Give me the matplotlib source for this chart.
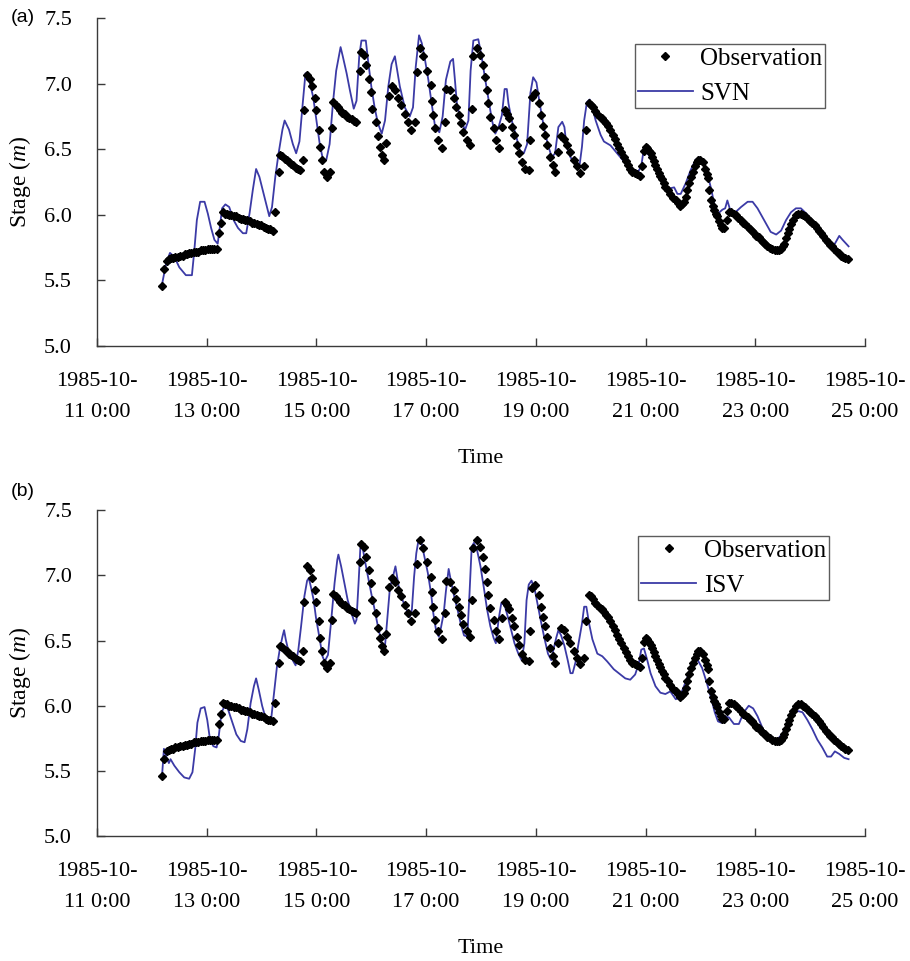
import numpy as np
import pandas as pd
import matplotlib
matplotlib.use('Agg')
import matplotlib.pyplot as plt

plt.rcParams['font.family'] = ['Liberation Serif', 'DejaVu Serif']
plt.rcParams['mathtext.fontset'] = 'custom'
plt.rcParams['mathtext.rm'] = 'Liberation Serif'
plt.rcParams['mathtext.it'] = 'Liberation Serif:italic'

start = pd.Timestamp('1985-10-11 00:00')

# observed stage, time in days after 1985-10-11 0:00
obs_day = np.array([
    1.18, 1.22, 1.27, 1.31, 1.35, 1.39, 1.43, 1.47, 1.52, 1.56, 1.60, 1.64, 1.68, 1.72,
    1.77, 1.81, 1.85, 1.89, 1.93, 1.97, 2.02, 2.06, 2.10, 2.14, 2.18, 2.23, 2.26, 2.29,
    2.33, 2.37, 2.41, 2.45, 2.49, 2.54, 2.58, 2.62, 2.66, 2.70, 2.74, 2.79, 2.83, 2.87,
    2.91, 2.95, 2.99, 3.04, 3.08, 3.12, 3.16, 3.20, 3.24, 3.31, 3.34, 3.38, 3.42, 3.46,
    3.50, 3.54, 3.58, 3.63, 3.67, 3.70, 3.75, 3.78, 3.83, 3.88, 3.92, 3.97, 4.00, 4.04,
    4.07, 4.11, 4.13, 4.19, 4.25, 4.29, 4.31, 4.35, 4.39, 4.43, 4.47, 4.52, 4.56, 4.60,
    4.64, 4.68, 4.72, 4.79, 4.82, 4.87, 4.91, 4.95, 4.99, 5.01, 5.08, 5.12, 5.16, 5.19,
    5.23, 5.27, 5.33, 5.37, 5.43, 5.49, 5.55, 5.61, 5.67, 5.73, 5.80, 5.84, 5.89, 5.95,
    6.02, 6.08, 6.10, 6.12, 6.16, 6.22, 6.28, 6.34, 6.37, 6.43, 6.50, 6.54, 6.59, 6.63,
    6.68, 6.74, 6.79, 6.83, 6.86, 6.92, 6.98, 7.03, 7.07, 7.10, 7.13, 7.17, 7.23, 7.28,
    7.32, 7.38, 7.43, 7.47, 7.51, 7.56, 7.60, 7.65, 7.70, 7.74, 7.81, 7.87, 7.90, 7.93,
    7.99, 8.05, 8.09, 8.13, 8.17, 8.21, 8.26, 8.31, 8.35, 8.41, 8.45, 8.51, 8.57, 8.63,
    8.69, 8.75, 8.81, 8.87, 8.92, 8.96, 9.00, 9.04, 9.08, 9.12, 9.16, 9.20, 9.24, 9.28,
    9.32, 9.36, 9.40, 9.44, 9.48, 9.52, 9.56, 9.60, 9.64, 9.68, 9.72, 9.76, 9.80, 9.85,
    9.90, 9.94, 9.97, 10.00, 10.03, 10.06, 10.09, 10.12, 10.15, 10.18, 10.21, 10.24, 10.27, 10.30,
    10.33, 10.36, 10.40, 10.45, 10.50, 10.55, 10.59, 10.63, 10.67, 10.70, 10.73, 10.76, 10.79, 10.82,
    10.86, 10.90, 10.93, 10.96, 11.00, 11.04, 11.08, 11.11, 11.13, 11.16, 11.19, 11.22, 11.25, 11.28,
    11.31, 11.34, 11.37, 11.40, 11.43, 11.48, 11.52, 11.56, 11.61, 11.65, 11.69, 11.74, 11.78, 11.82,
    11.86, 11.90, 11.94, 11.98, 12.02, 12.06, 12.10, 12.14, 12.18, 12.22, 12.26, 12.30, 12.35, 12.39,
    12.43, 12.47, 12.50, 12.53, 12.56, 12.59, 12.62, 12.65, 12.69, 12.74, 12.78, 12.83, 12.87, 12.91,
    12.96, 13.00, 13.04, 13.08, 13.12, 13.16, 13.20, 13.24, 13.28, 13.32, 13.36, 13.40, 13.44, 13.48,
    13.52, 13.56, 13.60, 13.64, 13.69])
obs_stage = np.array([
    5.46, 5.59, 5.65, 5.66, 5.67, 5.67, 5.68, 5.68, 5.69, 5.69, 5.70, 5.70, 5.71, 5.71,
    5.72, 5.72, 5.72, 5.73, 5.73, 5.73, 5.74, 5.74, 5.74, 5.74, 5.74, 5.86, 5.94, 6.02,
    6.01, 6.01, 6.00, 6.00, 5.99, 5.99, 5.98, 5.97, 5.97, 5.96, 5.96, 5.95, 5.94, 5.94,
    5.93, 5.92, 5.92, 5.91, 5.90, 5.89, 5.89, 5.88, 6.02, 6.33, 6.46, 6.45, 6.43, 6.42,
    6.40, 6.39, 6.38, 6.36, 6.35, 6.34, 6.42, 6.80, 7.07, 7.04, 6.98, 6.89, 6.80, 6.65,
    6.52, 6.42, 6.33, 6.29, 6.33, 6.66, 6.86, 6.84, 6.82, 6.80, 6.78, 6.77, 6.75, 6.74,
    6.73, 6.72, 6.71, 7.10, 7.24, 7.22, 7.14, 7.04, 6.94, 6.81, 6.71, 6.60, 6.52, 6.46,
    6.42, 6.55, 6.91, 6.98, 6.95, 6.89, 6.84, 6.77, 6.71, 6.65, 6.71, 7.09, 7.27, 7.21,
    7.10, 6.99, 6.87, 6.76, 6.66, 6.57, 6.51, 6.71, 6.96, 6.95, 6.89, 6.82, 6.76, 6.70,
    6.63, 6.57, 6.53, 6.81, 7.21, 7.27, 7.22, 7.14, 7.05, 6.95, 6.85, 6.75, 6.66, 6.57,
    6.51, 6.67, 6.80, 6.77, 6.74, 6.67, 6.61, 6.53, 6.47, 6.40, 6.35, 6.34, 6.57, 6.90,
    6.93, 6.85, 6.76, 6.68, 6.61, 6.53, 6.44, 6.38, 6.33, 6.48, 6.60, 6.58, 6.53, 6.48,
    6.42, 6.37, 6.32, 6.37, 6.65, 6.85, 6.84, 6.82, 6.79, 6.77, 6.75, 6.74, 6.72, 6.70,
    6.68, 6.65, 6.61, 6.58, 6.54, 6.51, 6.48, 6.44, 6.41, 6.38, 6.35, 6.33, 6.32, 6.31,
    6.30, 6.37, 6.49, 6.52, 6.51, 6.49, 6.47, 6.44, 6.41, 6.38, 6.35, 6.32, 6.30, 6.27,
    6.24, 6.21, 6.19, 6.16, 6.13, 6.11, 6.09, 6.07, 6.08, 6.10, 6.14, 6.19, 6.24, 6.29,
    6.33, 6.37, 6.40, 6.42, 6.42, 6.40, 6.35, 6.31, 6.28, 6.19, 6.11, 6.07, 6.04, 6.01,
    5.99, 5.95, 5.92, 5.90, 5.90, 5.96, 6.02, 6.02, 6.01, 6.00, 5.98, 5.96, 5.94, 5.93,
    5.91, 5.89, 5.88, 5.86, 5.84, 5.83, 5.81, 5.79, 5.78, 5.76, 5.75, 5.74, 5.73, 5.73,
    5.73, 5.74, 5.76, 5.78, 5.82, 5.86, 5.89, 5.93, 5.96, 6.00, 6.01, 6.01, 6.00, 5.99,
    5.97, 5.95, 5.94, 5.92, 5.90, 5.88, 5.86, 5.84, 5.81, 5.79, 5.77, 5.76, 5.74, 5.72,
    5.71, 5.69, 5.68, 5.67, 5.66])

# SVN model
svn_day = np.array([
    1.19, 1.26, 1.33, 1.41, 1.50, 1.62, 1.73, 1.77, 1.82, 1.88, 1.96, 2.02, 2.08, 2.14,
    2.20, 2.24, 2.28, 2.34, 2.41, 2.49, 2.57, 2.66, 2.72, 2.78, 2.84, 2.90, 2.96, 3.02,
    3.08, 3.14, 3.19, 3.25, 3.31, 3.38, 3.42, 3.50, 3.57, 3.63, 3.69, 3.75, 3.80, 3.86,
    3.94, 4.00, 4.06, 4.12, 4.18, 4.24, 4.30, 4.36, 4.44, 4.48, 4.55, 4.61, 4.68, 4.73,
    4.78, 4.82, 4.90, 4.94, 5.00, 5.06, 5.12, 5.19, 5.25, 5.31, 5.37, 5.43, 5.52, 5.61,
    5.70, 5.76, 5.81, 5.87, 5.92, 5.98, 6.04, 6.10, 6.16, 6.24, 6.30, 6.36, 6.44, 6.49,
    6.52, 6.56, 6.63, 6.71, 6.77, 6.81, 6.86, 6.95, 7.01, 7.07, 7.14, 7.20, 7.26, 7.32,
    7.38, 7.43, 7.47, 7.50, 7.56, 7.64, 7.71, 7.78, 7.84, 7.90, 7.95, 8.01, 8.05, 8.11,
    8.17, 8.23, 8.29, 8.35, 8.41, 8.48, 8.52, 8.56, 8.63, 8.72, 8.80, 8.84, 8.88, 8.93,
    8.98, 9.03, 9.09, 9.18, 9.24, 9.36, 9.48, 9.60, 9.72, 9.85, 9.92, 9.97, 10.03, 10.09,
    10.21, 10.33, 10.42, 10.52, 10.58, 10.64, 10.73, 10.82, 10.91, 10.99, 11.06, 11.14, 11.20, 11.26,
    11.32, 11.40, 11.45, 11.49, 11.54, 11.61, 11.74, 11.86, 11.95, 12.04, 12.16, 12.28, 12.38, 12.47,
    12.56, 12.65, 12.74, 12.83, 12.93, 13.02, 13.11, 13.20, 13.29, 13.38, 13.45, 13.53, 13.59, 13.70])
svn_stage = np.array([
    5.48, 5.63, 5.71, 5.68, 5.60, 5.54, 5.54, 5.71, 5.96, 6.10, 6.10, 6.01, 5.90, 5.81,
    5.78, 5.91, 6.05, 6.08, 6.06, 5.96, 5.90, 5.86, 5.86, 6.01, 6.19, 6.35, 6.29, 6.19,
    6.09, 5.99, 6.06, 6.29, 6.47, 6.65, 6.72, 6.65, 6.54, 6.47, 6.56, 6.85, 7.08, 7.04,
    6.90, 6.72, 6.54, 6.42, 6.42, 6.54, 6.85, 7.10, 7.28, 7.21, 7.08, 6.95, 6.81, 6.87,
    7.21, 7.33, 7.33, 7.18, 6.98, 6.82, 6.70, 6.62, 6.72, 6.98, 7.15, 7.21, 6.98, 6.82,
    6.75, 6.82, 7.13, 7.37, 7.31, 7.18, 7.03, 6.85, 6.68, 6.63, 6.75, 7.03, 7.17, 7.19,
    7.05, 6.85, 6.72, 6.65, 6.72, 7.10, 7.33, 7.34, 7.21, 7.05, 6.87, 6.72, 6.62, 6.67,
    6.76, 6.96, 6.96, 6.85, 6.72, 6.60, 6.49, 6.47, 6.54, 6.93, 7.05, 7.01, 6.90, 6.75,
    6.62, 6.52, 6.44, 6.47, 6.67, 6.71, 6.67, 6.52, 6.44, 6.39, 6.39, 6.52, 6.72, 6.86,
    6.88, 6.82, 6.72, 6.61, 6.56, 6.53, 6.47, 6.41, 6.34, 6.32, 6.37, 6.51, 6.47, 6.44,
    6.34, 6.24, 6.20, 6.21, 6.16, 6.16, 6.24, 6.34, 6.42, 6.44, 6.39, 6.29, 6.19, 6.06,
    6.01, 6.04, 6.05, 6.11, 6.04, 6.01, 6.06, 6.10, 6.10, 6.05, 5.96, 5.87, 5.85, 5.88,
    5.96, 6.02, 6.05, 6.05, 6.01, 5.96, 5.90, 5.83, 5.79, 5.77, 5.78, 5.84, 5.81, 5.76])

# ISV model
isv_day = np.array([
    1.19, 1.22, 1.27, 1.31, 1.34, 1.41, 1.50, 1.59, 1.68, 1.74, 1.79, 1.83, 1.89, 1.96,
    2.01, 2.06, 2.12, 2.18, 2.22, 2.27, 2.33, 2.39, 2.47, 2.54, 2.62, 2.69, 2.74, 2.80,
    2.86, 2.90, 2.95, 3.01, 3.07, 3.13, 3.17, 3.22, 3.28, 3.33, 3.38, 3.41, 3.44, 3.50,
    3.58, 3.62, 3.67, 3.72, 3.78, 3.83, 3.86, 3.90, 3.95, 3.99, 4.06, 4.11, 4.15, 4.21,
    4.27, 4.33, 4.38, 4.40, 4.45, 4.51, 4.57, 4.64, 4.70, 4.73, 4.77, 4.80, 4.84, 4.88,
    4.94, 5.00, 5.06, 5.12, 5.19, 5.25, 5.29, 5.34, 5.40, 5.44, 5.47, 5.52, 5.61, 5.70,
    5.74, 5.78, 5.82, 5.86, 5.91, 5.97, 6.03, 6.09, 6.13, 6.18, 6.23, 6.27, 6.32, 6.36,
    6.41, 6.45, 6.51, 6.57, 6.63, 6.69, 6.75, 6.79, 6.83, 6.87, 6.93, 6.99, 7.05, 7.11,
    7.17, 7.23, 7.27, 7.32, 7.37, 7.43, 7.49, 7.55, 7.61, 7.68, 7.74, 7.79, 7.83, 7.87,
    7.92, 7.98, 8.04, 8.10, 8.16, 8.22, 8.28, 8.32, 8.37, 8.41, 8.46, 8.52, 8.58, 8.63,
    8.67, 8.72, 8.77, 8.84, 8.88, 8.92, 8.97, 9.03, 9.12, 9.21, 9.30, 9.42, 9.54, 9.63,
    9.72, 9.81, 9.88, 9.92, 9.97, 10.03, 10.09, 10.18, 10.27, 10.36, 10.45, 10.55, 10.61, 10.70,
    10.79, 10.88, 10.95, 11.03, 11.12, 11.20, 11.26, 11.32, 11.38, 11.44, 11.52, 11.61, 11.70, 11.79,
    11.88, 11.96, 12.04, 12.13, 12.22, 12.31, 12.40, 12.50, 12.59, 12.68, 12.77, 12.86, 12.95, 13.04,
    13.13, 13.22, 13.31, 13.38, 13.45, 13.53, 13.62, 13.70])
isv_stage = np.array([
    5.49, 5.67, 5.60, 5.56, 5.59, 5.54, 5.49, 5.45, 5.44, 5.49, 5.67, 5.87, 5.98, 5.99,
    5.89, 5.74, 5.69, 5.68, 5.77, 5.95, 6.00, 5.97, 5.87, 5.78, 5.73, 5.72, 5.82, 6.02,
    6.15, 6.21, 6.12, 6.00, 5.91, 5.87, 5.88, 6.07, 6.30, 6.43, 6.53, 6.58, 6.51, 6.40,
    6.34, 6.31, 6.43, 6.61, 6.84, 6.96, 6.98, 6.91, 6.81, 6.68, 6.51, 6.38, 6.34, 6.39,
    6.66, 6.94, 7.12, 7.16, 7.07, 6.94, 6.81, 6.71, 6.63, 6.66, 6.96, 7.21, 7.22, 7.12,
    6.99, 6.86, 6.74, 6.61, 6.48, 6.46, 6.66, 6.91, 7.00, 7.07, 6.99, 6.86, 6.77, 6.68,
    6.74, 6.99, 7.17, 7.27, 7.26, 7.14, 7.02, 6.86, 6.71, 6.58, 6.53, 6.60, 6.71, 6.88,
    7.05, 6.96, 6.84, 6.74, 6.63, 6.54, 6.53, 6.86, 7.22, 7.25, 7.19, 7.07, 6.91, 6.74,
    6.61, 6.52, 6.48, 6.66, 6.79, 6.77, 6.68, 6.58, 6.48, 6.40, 6.35, 6.48, 6.81, 6.93,
    6.96, 6.89, 6.76, 6.63, 6.51, 6.40, 6.35, 6.43, 6.52, 6.58, 6.54, 6.46, 6.35, 6.25,
    6.25, 6.33, 6.46, 6.63, 6.76, 6.76, 6.63, 6.51, 6.40, 6.38, 6.34, 6.28, 6.24, 6.21,
    6.20, 6.24, 6.33, 6.43, 6.44, 6.35, 6.25, 6.15, 6.10, 6.09, 6.11, 6.05, 6.06, 6.15,
    6.25, 6.34, 6.35, 6.29, 6.17, 6.05, 5.95, 5.88, 5.87, 5.92, 5.91, 5.86, 5.86, 5.95,
    6.00, 5.98, 5.92, 5.83, 5.75, 5.73, 5.74, 5.79, 5.87, 5.93, 5.96, 5.95, 5.89, 5.82,
    5.74, 5.68, 5.61, 5.61, 5.65, 5.63, 5.60, 5.59])

tick_days = [0, 2, 4, 6, 8, 10, 12, 14]
yticks = [5.0, 5.5, 6.0, 6.5, 7.0, 7.5]

line_color = '#3b3aa6'
axis_color = '#3a3a3a'


def draw_panel(ax, model_day, model_stage, model_name, leg_x):
    t_obs = start + pd.to_timedelta(obs_day, unit='D')
    t_mod = start + pd.to_timedelta(model_day, unit='D')
    ax.plot(t_mod, model_stage, color=line_color, lw=1.3, label=model_name, zorder=2)
    ax.plot(t_obs, obs_stage, ls='none', marker='D', ms=3.6, color='black',
            label='Observation', zorder=3)

    ticks = [start + pd.Timedelta(days=d) for d in tick_days]
    ax.set_xlim(ticks[0], ticks[-1])
    ax.set_xticks(ticks)
    ax.set_xticklabels(['%s\n%d %d:%s' % (t.strftime('%Y-%m-'), t.day, t.hour, t.strftime('%M'))
                        for t in ticks], linespacing=1.8)
    ax.set_ylim(5.0, 7.5)
    ax.set_yticks(yticks)
    ax.set_yticklabels(['%.1f' % v for v in yticks])

    for s in ['top', 'right']:
        ax.spines[s].set_visible(False)
    for s in ['left', 'bottom']:
        ax.spines[s].set_color(axis_color)
        ax.spines[s].set_linewidth(1.0)
    ax.tick_params(axis='x', direction='in', length=6, width=1, color=axis_color,
                   pad=19, labelsize=16)
    ax.tick_params(axis='y', direction='in', length=6, width=1, color=axis_color,
                   pad=18, labelsize=16)

    ax.set_xlabel('Time', fontsize=16)
    ax.xaxis.set_label_coords(0.5, -0.315)
    ax.set_ylabel('Stage ($\\mathit{m}$)', fontsize=17)
    ax.yaxis.set_label_coords(-0.083, 0.5)

    handles, labels = ax.get_legend_handles_labels()
    leg = ax.legend(handles[::-1], labels[::-1], loc='upper left',
                    bbox_to_anchor=(leg_x, 0.92), fontsize=18, frameon=True,
                    fancybox=False, edgecolor='#333333', handlelength=2.2,
                    handletextpad=0.3, labelspacing=0.5, borderpad=0.12,
                    borderaxespad=0.0, markerscale=1.0)
    leg.get_frame().set_linewidth(1.0)


fig = plt.figure(figsize=(9.1, 9.61), dpi=100)
ax_a = fig.add_axes([0.1066, 0.640, 0.8440, 0.341])
ax_b = fig.add_axes([0.1066, 0.130, 0.8440, 0.339])

draw_panel(ax_a, svn_day, svn_stage, 'SVN', 0.70)
draw_panel(ax_b, isv_day, isv_stage, 'ISV', 0.705)

fig.text(0.012, 1 - 18 / 961, '(a)', family=['Liberation Sans', 'DejaVu Sans'],
         fontsize=14, va='center', ha='left')
fig.text(0.012, 1 - 491 / 961, '(b)', family=['Liberation Sans', 'DejaVu Sans'],
         fontsize=14, va='center', ha='left')

fig.savefig('out.png', dpi=100)
